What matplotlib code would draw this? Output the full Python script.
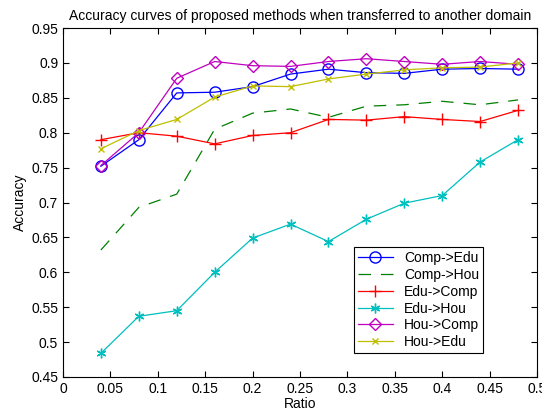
import matplotlib
matplotlib.use("Agg")
import matplotlib.pyplot as plt

plt.rcParams["font.family"] = ["Liberation Sans", "DejaVu Sans"]

ratio = [0.04, 0.08, 0.12, 0.16, 0.2, 0.24, 0.28, 0.32, 0.36, 0.4, 0.44, 0.48]
comp_edu = [0.752, 0.790, 0.857, 0.858, 0.866, 0.884, 0.891, 0.886, 0.885, 0.891, 0.892, 0.891]
comp_hou = [0.632, 0.693, 0.712, 0.805, 0.828, 0.834, 0.822, 0.838, 0.840, 0.845, 0.840, 0.847]
edu_comp = [0.790, 0.800, 0.795, 0.784, 0.796, 0.800, 0.819, 0.818, 0.823, 0.819, 0.816, 0.832]
edu_hou = [0.484, 0.537, 0.545, 0.600, 0.649, 0.669, 0.644, 0.676, 0.699, 0.710, 0.758, 0.790]
hou_comp = [0.753, 0.800, 0.878, 0.902, 0.896, 0.895, 0.902, 0.906, 0.902, 0.898, 0.902, 0.898]
hou_edu = [0.777, 0.803, 0.819, 0.851, 0.867, 0.866, 0.877, 0.884, 0.890, 0.893, 0.894, 0.900]

fig = plt.figure(figsize=(5.42, 4.12), dpi=100)
ax = fig.add_axes([63 / 542, 1 - 377 / 412, 474 / 542, 349 / 412])

lw = 0.9
ax.plot(ratio, comp_edu, color="#0000ff", marker="o", ms=8, mfc="none", lw=lw, label="Comp->Edu")
ax.plot(ratio, comp_hou, color="#008000", ls=(0, (10, 8)), lw=lw, label="Comp->Hou")
ax.plot(ratio, edu_comp, color="#ff0000", marker="+", ms=9, lw=lw, label="Edu->Comp")
ax.plot(ratio, edu_hou, color="#00bfbf", marker=(6, 2, 0), ms=7, lw=lw, label="Edu->Hou")
ax.plot(ratio, hou_comp, color="#bf00bf", marker="D", ms=6, mfc="none", lw=lw, label="Hou->Comp")
ax.plot(ratio, hou_edu, color="#bfbf00", marker="x", ms=4, lw=lw, label="Hou->Edu")

ax.set_xlim(0, 0.5)
ax.set_ylim(0.45, 0.95)
ax.set_xticks([0, 0.05, 0.1, 0.15, 0.2, 0.25, 0.3, 0.35, 0.4, 0.45, 0.5])
ax.set_xticklabels(["0", "0.05", "0.1", "0.15", "0.2", "0.25", "0.3", "0.35", "0.4", "0.45", "0.5"])
ax.set_yticks([0.45, 0.5, 0.55, 0.6, 0.65, 0.7, 0.75, 0.8, 0.85, 0.9, 0.95])
ax.set_yticklabels(["0.45", "0.5", "0.55", "0.6", "0.65", "0.7", "0.75", "0.8", "0.85", "0.9", "0.95"])
ax.tick_params(direction="in", top=True, right=True, labelsize=10, length=4)
ax.set_xlabel("Ratio", fontsize=10, labelpad=1)
ax.set_ylabel("Accuracy", fontsize=10, labelpad=3)
ax.set_title("Accuracy curves of proposed methods when transferred to another domain", fontsize=10, pad=6)

leg = ax.legend(loc="lower right", bbox_to_anchor=(0.901, 0.048), fontsize=10, fancybox=False,
                framealpha=1, edgecolor="black", handlelength=2.5, borderpad=0.3, labelspacing=0.2)
leg.get_frame().set_linewidth(0.8)

fig.savefig("out.png", dpi=100)
